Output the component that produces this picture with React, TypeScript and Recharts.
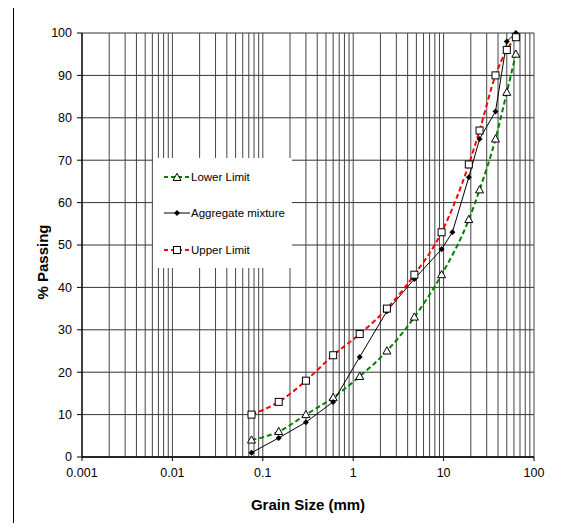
import { LineChart, Line, XAxis, YAxis, CartesianGrid, ReferenceLine, Label } from 'recharts'

const sizes = [0.075, 0.15, 0.3, 0.6, 1.18, 2.36, 4.75, 9.5, 12.5, 19, 25, 37.5, 50, 63]
const lowerLimit = [4, 6, 10, 14, 19, 25, 33, 43, null, 56, 63, 75, 86, 95]
const aggregateMixture = [1, 4.5, 8.2, 13, 23.6, 34.4, 42, 49, 53, 66, 75, 81.5, 98, 100]
const upperLimit = [10, 13, 18, 24, 29, 35, 43, 53, null, 69, 77, 90, 96, 99]

const xTicks = [0.001, 0.01, 0.1, 1, 10, 100]
const yTicks = [0, 10, 20, 30, 40, 50, 60, 70, 80, 90, 100]
const decades = [0.001, 0.01, 0.1, 1, 10]
const multipliers = [2, 3, 4, 5, 6, 7, 8, 9, 10]

const data = sizes.map((size, i) => ({
  size,
  lower: lowerLimit[i],
  mix: aggregateMixture[i],
  upper: upperLimit[i],
}))

const gridX = decades.flatMap((d) => multipliers.map((m) => +(d * m).toPrecision(3)))

const FONT = '"Liberation Sans", Arial, sans-serif'

function Triangle(p: any) {
  if (p.cx == null || p.cy == null) return <g key={p.key} />
  const { cx, cy } = p
  return (
    <path
      key={p.key}
      d={`M${cx},${cy - 4.2} L${cx + 4},${cy + 3} L${cx - 4},${cy + 3} Z`}
      fill="#fff"
      stroke="#000"
      strokeWidth={1}
    />
  )
}

function Square(p: any) {
  if (p.cx == null || p.cy == null) return <g key={p.key} />
  return <rect key={p.key} x={p.cx - 3.5} y={p.cy - 3.5} width={7} height={7} fill="#fff" stroke="#000" strokeWidth={1} />
}

function Diamond(p: any) {
  if (p.cx == null || p.cy == null) return <g key={p.key} />
  const { cx, cy } = p
  return <path key={p.key} d={`M${cx},${cy - 3} L${cx + 3},${cy} L${cx},${cy + 3} L${cx - 3},${cy} Z`} fill="#000" />
}

const legendItems = [
  { name: 'Lower Limit', color: '#008000', dash: '4 3', marker: 'tri', top: 19 },
  { name: 'Aggregate mixture', color: '#000', dash: undefined, marker: 'dia', top: 55 },
  { name: 'Upper Limit', color: '#ff0000', dash: '4 3', marker: 'sq', top: 92 },
]

export default function App() {
  return (
    <div style={{ position: 'relative', width: 566, height: 531, margin: -8, overflow: 'hidden', background: '#fff', fontFamily: FONT }}>
      <div style={{ position: 'absolute', left: 13, top: 4, width: 700, height: 700, borderLeft: '1px solid #000', borderTop: '1px solid #000' }} />
      <LineChart width={566} height={531} data={data} margin={{ top: 33, right: 32, left: 22, bottom: 44 }}>
        <CartesianGrid vertical={false} stroke="#333" strokeWidth={1} />
        {gridX.map((v) => (
          <ReferenceLine key={v} x={v} stroke="#444" strokeWidth={1} />
        ))}
        <XAxis
          dataKey="size"
          type="number"
          scale="log"
          domain={[0.001, 100]}
          ticks={xTicks}
          allowDataOverflow
          tickFormatter={(v) => String(v)}
          tick={{ fill: '#000', fontSize: 12.5, fontFamily: FONT }}
          tickSize={4}
          tickMargin={7}
          axisLine={{ stroke: '#000', strokeWidth: 1.5 }}
          tickLine={{ stroke: '#000' }}
        >
          <Label value="Grain Size (mm)" position="bottom" offset={12} style={{ fontSize: 15, fontWeight: 'bold', fill: '#000', fontFamily: FONT }} />
        </XAxis>
        <YAxis
          type="number"
          domain={[0, 100]}
          ticks={yTicks}
          width={60}
          tick={{ fill: '#000', fontSize: 12.5, fontFamily: FONT }}
          tickSize={5}
          tickMargin={5}
          axisLine={{ stroke: '#000', strokeWidth: 1.5 }}
          tickLine={{ stroke: '#000' }}
        >
          <Label
            content={(props: any) => {
              const vb = props.viewBox
              const cy = vb.y + vb.height / 2 + 17
              return (
                <text x={42} y={cy} transform={`rotate(-90 42 ${cy})`} textAnchor="middle" dominantBaseline="central" style={{ fontSize: 15, fontWeight: 'bold', fill: '#000', fontFamily: FONT }}>
                  % Passing
                </text>
              )
            }}
          />
        </YAxis>
        <Line type="monotone" dataKey="lower" stroke="#008000" strokeWidth={2} strokeDasharray="5 3" connectNulls dot={(p: any) => <Triangle {...p} key={`t${p.index}`} />} activeDot={false} isAnimationActive={false} />
        <Line type="linear" dataKey="mix" stroke="#000" strokeWidth={1} dot={(p: any) => <Diamond {...p} key={`d${p.index}`} />} activeDot={false} isAnimationActive={false} />
        <Line type="monotone" dataKey="upper" stroke="#ff0000" strokeWidth={2} strokeDasharray="5 3" connectNulls dot={(p: any) => <Square {...p} key={`s${p.index}`} />} activeDot={false} isAnimationActive={false} />
      </LineChart>
      <div style={{ position: 'absolute', left: 153, top: 158, width: 139, height: 110, background: '#fff' }}>
        {legendItems.map((it) => (
          <div key={it.name} style={{ position: 'absolute', left: 11, top: it.top - 8, height: 16, display: 'flex', alignItems: 'center' }}>
            <svg width={26} height={16}>
              <line x1={0} y1={8} x2={26} y2={8} stroke={it.color} strokeWidth={it.dash ? 2 : 1} strokeDasharray={it.dash} />
              {it.marker === 'tri' && <Triangle cx={13} cy={8.5} key="t" />}
              {it.marker === 'sq' && <Square cx={13} cy={8} key="s" />}
              {it.marker === 'dia' && <Diamond cx={13} cy={8} key="d" />}
            </svg>
            <span style={{ fontSize: 11.5, color: '#000', marginLeft: 1, whiteSpace: 'nowrap' }}>{it.name}</span>
          </div>
        ))}
      </div>
    </div>
  )
}
